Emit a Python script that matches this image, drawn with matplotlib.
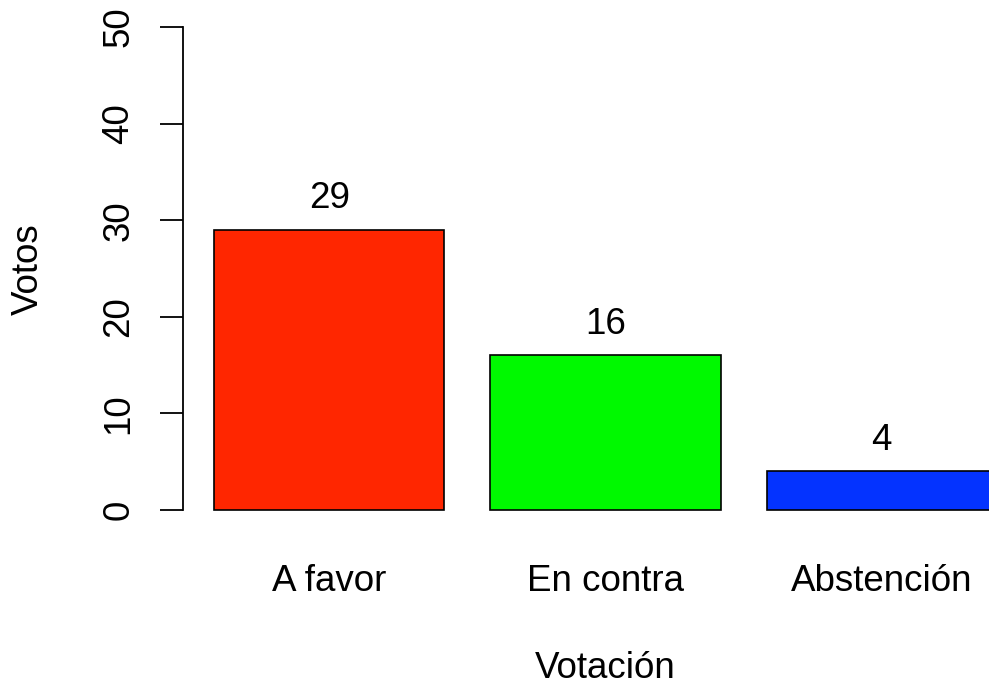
import matplotlib.pyplot as plt
import matplotlib as mpl

mpl.rcParams['font.family'] = 'Liberation Sans'

categorias = ['A favor', 'En contra', 'Abstención']
votos = [29, 16, 4]
colores = ['#FF2600', '#00F900', '#0433FF']
yticks = [0, 10, 20, 30, 40, 50]

# posiciones tipo barplot de R: ancho 1, espacio 0.2
pos = [0.2 + 1.2 * i + 0.5 for i in range(len(votos))]

fs = 26.5

fig = plt.figure(figsize=(9.89, 6.92), dpi=100)
ax = fig.add_axes([183 / 989, (692 - 529.3) / 692, 845 / 989, 521.6 / 692])

ax.bar(pos, votos, width=1.0, color=colores, edgecolor='black', linewidth=1.2)

for x, v in zip(pos, votos):
    ax.annotate(str(v), (x, v), xytext=(0, 22.5), textcoords='offset points',
                ha='center', va='center', fontsize=fs)

ax.set_xlim(0.064, 3.736)
ax.set_ylim(-2, 52)

for s in ['top', 'right', 'bottom']:
    ax.spines[s].set_visible(False)
ax.spines['left'].set_bounds(0, 50)
ax.spines['left'].set_linewidth(1.3)

ax.set_yticks(yticks)
ax.set_yticklabels([str(t) for t in yticks])
ax.tick_params(axis='y', length=16.6, width=1.3, pad=29.5, labelsize=fs)
for lab in ax.get_yticklabels():
    lab.set_rotation(90)
    lab.set_ha('center')
    lab.set_va('center')

ax.set_xticks(pos)
ax.set_xticklabels(categorias)
ax.tick_params(axis='x', length=0, pad=37.5, labelsize=fs)
for lab in ax.get_xticklabels():
    lab.set_va('center')

fig.text(28 / 989, 1 - 269 / 692, 'Votos', rotation=90, ha='center', va='center', fontsize=fs)
fig.text(605 / 989, 1 - 669 / 692, 'Votación', ha='center', va='center', fontsize=fs)

fig.savefig('out.png', dpi=100)
